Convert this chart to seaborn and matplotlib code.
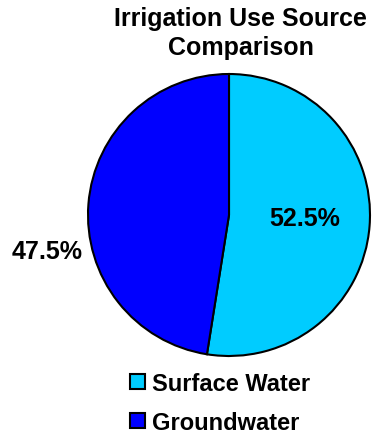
import matplotlib
matplotlib.use("Agg")
import matplotlib.pyplot as plt
import seaborn as sns

# Irrigation water sources (percent of total use)
sources = ["Surface Water", "Groundwater"]
shares = [52.5, 47.5]
colors = ["#00CCFF", "#0000FF"]
title = "Irrigation Use Source\nComparison"

sns.set_theme(style="white")
plt.rcParams["font.family"] = ["Liberation Sans", "DejaVu Sans"]
plt.rcParams["font.weight"] = "bold"
plt.rcParams["text.color"] = "black"

fig = plt.figure(figsize=(3.73, 4.35), dpi=100)
ax = fig.add_axes([0, 0, 1, 1])

wedges, texts, autotexts = ax.pie(
    shares,
    colors=colors,
    startangle=90,
    counterclock=False,
    autopct="%.1f%%",
    pctdistance=0.55,
    wedgeprops=dict(edgecolor="black", linewidth=1.5),
    textprops=dict(fontsize=18, fontweight="bold", color="black"),
)

# groundwater percentage sits outside the pie on the left
autotexts[1].set_position((-1.29, -0.255))
autotexts[0].set_position((0.54, -0.02))

ax.set_xlim(-229 / 141, (373 - 229) / 141)
ax.set_ylim(-(435 - 216) / 141, 216 / 141)
ax.set_aspect("auto")
ax.axis("off")

fig.text(0.645, 0.985, title, ha="center", va="top", color="black",
         fontsize=18, fontweight="bold", linespacing=1.3)

leg = ax.legend(
    wedges, sources,
    loc="upper left", bbox_to_anchor=(0.348, 0.143),
    bbox_transform=fig.transFigure,
    frameon=False,
    handlelength=0.65, handleheight=0.65, handletextpad=0.3,
    labelspacing=0.68, borderpad=0, borderaxespad=0,
    prop=dict(weight="bold", size=17),
)
for t in leg.get_texts():
    t.set_color("black")

fig.savefig("out.png", dpi=100)
